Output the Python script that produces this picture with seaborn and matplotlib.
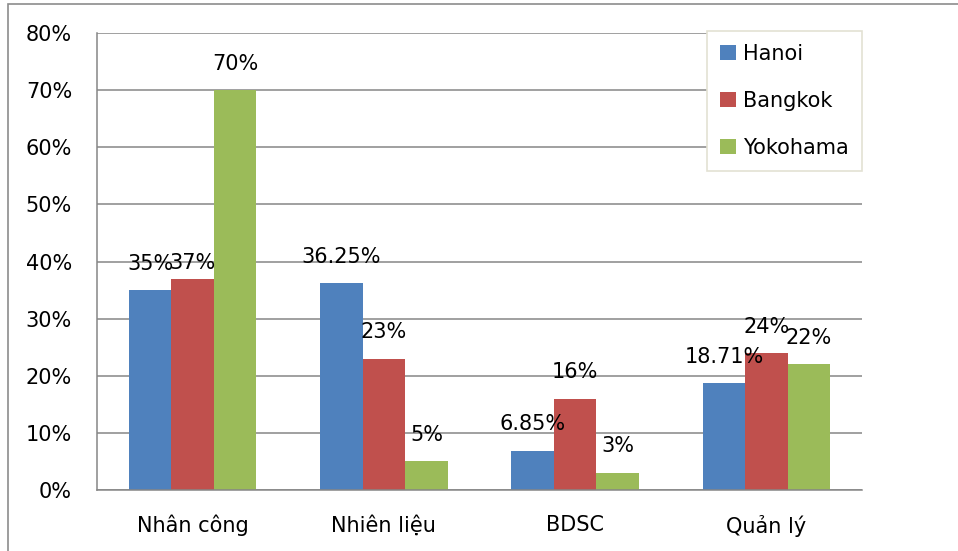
import matplotlib
matplotlib.use("Agg")
import matplotlib.pyplot as plt
from matplotlib.patches import Rectangle
from matplotlib.ticker import PercentFormatter, MultipleLocator
import seaborn as sns
import pandas as pd

categories = ["Nhân công", "Nhiên liệu", "BDSC", "Quản lý"]
series = ["Hanoi", "Bangkok", "Yokohama"]
hanoi = [35, 36.25, 6.85, 18.71]
bangkok = [37, 23, 16, 24]
yokohama = [70, 5, 3, 22]
colors = ["#4F81BD", "#C0504D", "#9BBB59"]

rows = []
for name, vals in zip(series, [hanoi, bangkok, yokohama]):
    for cat, v in zip(categories, vals):
        rows.append({"cat": cat, "city": name, "value": v})
df = pd.DataFrame(rows)

sns.set_theme(style="white")
plt.rcParams["font.family"] = ["DejaVu Sans"]
plt.rcParams["text.color"] = "black"
FS = 15

fig = plt.figure(figsize=(9.58, 5.51), dpi=100)
ax = fig.add_axes([97 / 958, 1 - 490 / 551, (862 - 97) / 958, (490 - 33) / 551])

sns.barplot(data=df, x="cat", y="value", hue="city", order=categories,
            hue_order=series, palette=colors, width=0.667, linewidth=0,
            saturation=1, ax=ax, errorbar=None)

ax.set_ylim(0, 80)
ax.yaxis.set_major_locator(MultipleLocator(10))
ax.yaxis.set_major_formatter(PercentFormatter(xmax=100, decimals=0))
ax.set_xlim(-0.5, 3.5)
ax.set_xlabel("")
ax.set_ylabel("")
grid_c = "#868686"
ax.grid(axis="y", color=grid_c, linewidth=1.1)
ax.set_axisbelow(True)
for s in ["top", "right"]:
    ax.spines[s].set_visible(False)
for s in ["left", "bottom"]:
    ax.spines[s].set_color(grid_c)
    ax.spines[s].set_linewidth(1.1)
ax.tick_params(axis="both", length=0, labelsize=FS, colors="black")
ax.tick_params(axis="y", pad=18)
ax.tick_params(axis="x", pad=18)

# data labels
nudge = {(0, 1): -8}
for i, cont in enumerate(ax.containers):
    for j, bar in enumerate(cont):
        h = bar.get_height()
        xc = bar.get_x() + bar.get_width() / 2
        dy = 19 + nudge.get((j, i), 0)
        ax.annotate(f"{h:g}%", (xc, h), xytext=(0, dy), textcoords="offset points",
                    ha="center", va="center", fontsize=FS, color="black")

leg = ax.legend(loc="upper right", bbox_to_anchor=(1.0, 1.005), borderaxespad=0,
                fontsize=FS, frameon=True, fancybox=False, framealpha=1,
                edgecolor="#E3E1D3", handlelength=0.75, handleheight=0.75,
                handletextpad=0.35, labelspacing=1.3, borderpad=0.62)
leg.get_frame().set_linewidth(1.2)
for t in leg.get_texts():
    t.set_color("black")

# outer chart border
fig.add_artist(Rectangle((8 / 958, -0.5), 2, 0.5 + 1 - 4 / 551, transform=fig.transFigure,
                         fill=False, edgecolor="#8C8C8C", linewidth=1.2, clip_on=False))

fig.savefig("out.png", dpi=100)
